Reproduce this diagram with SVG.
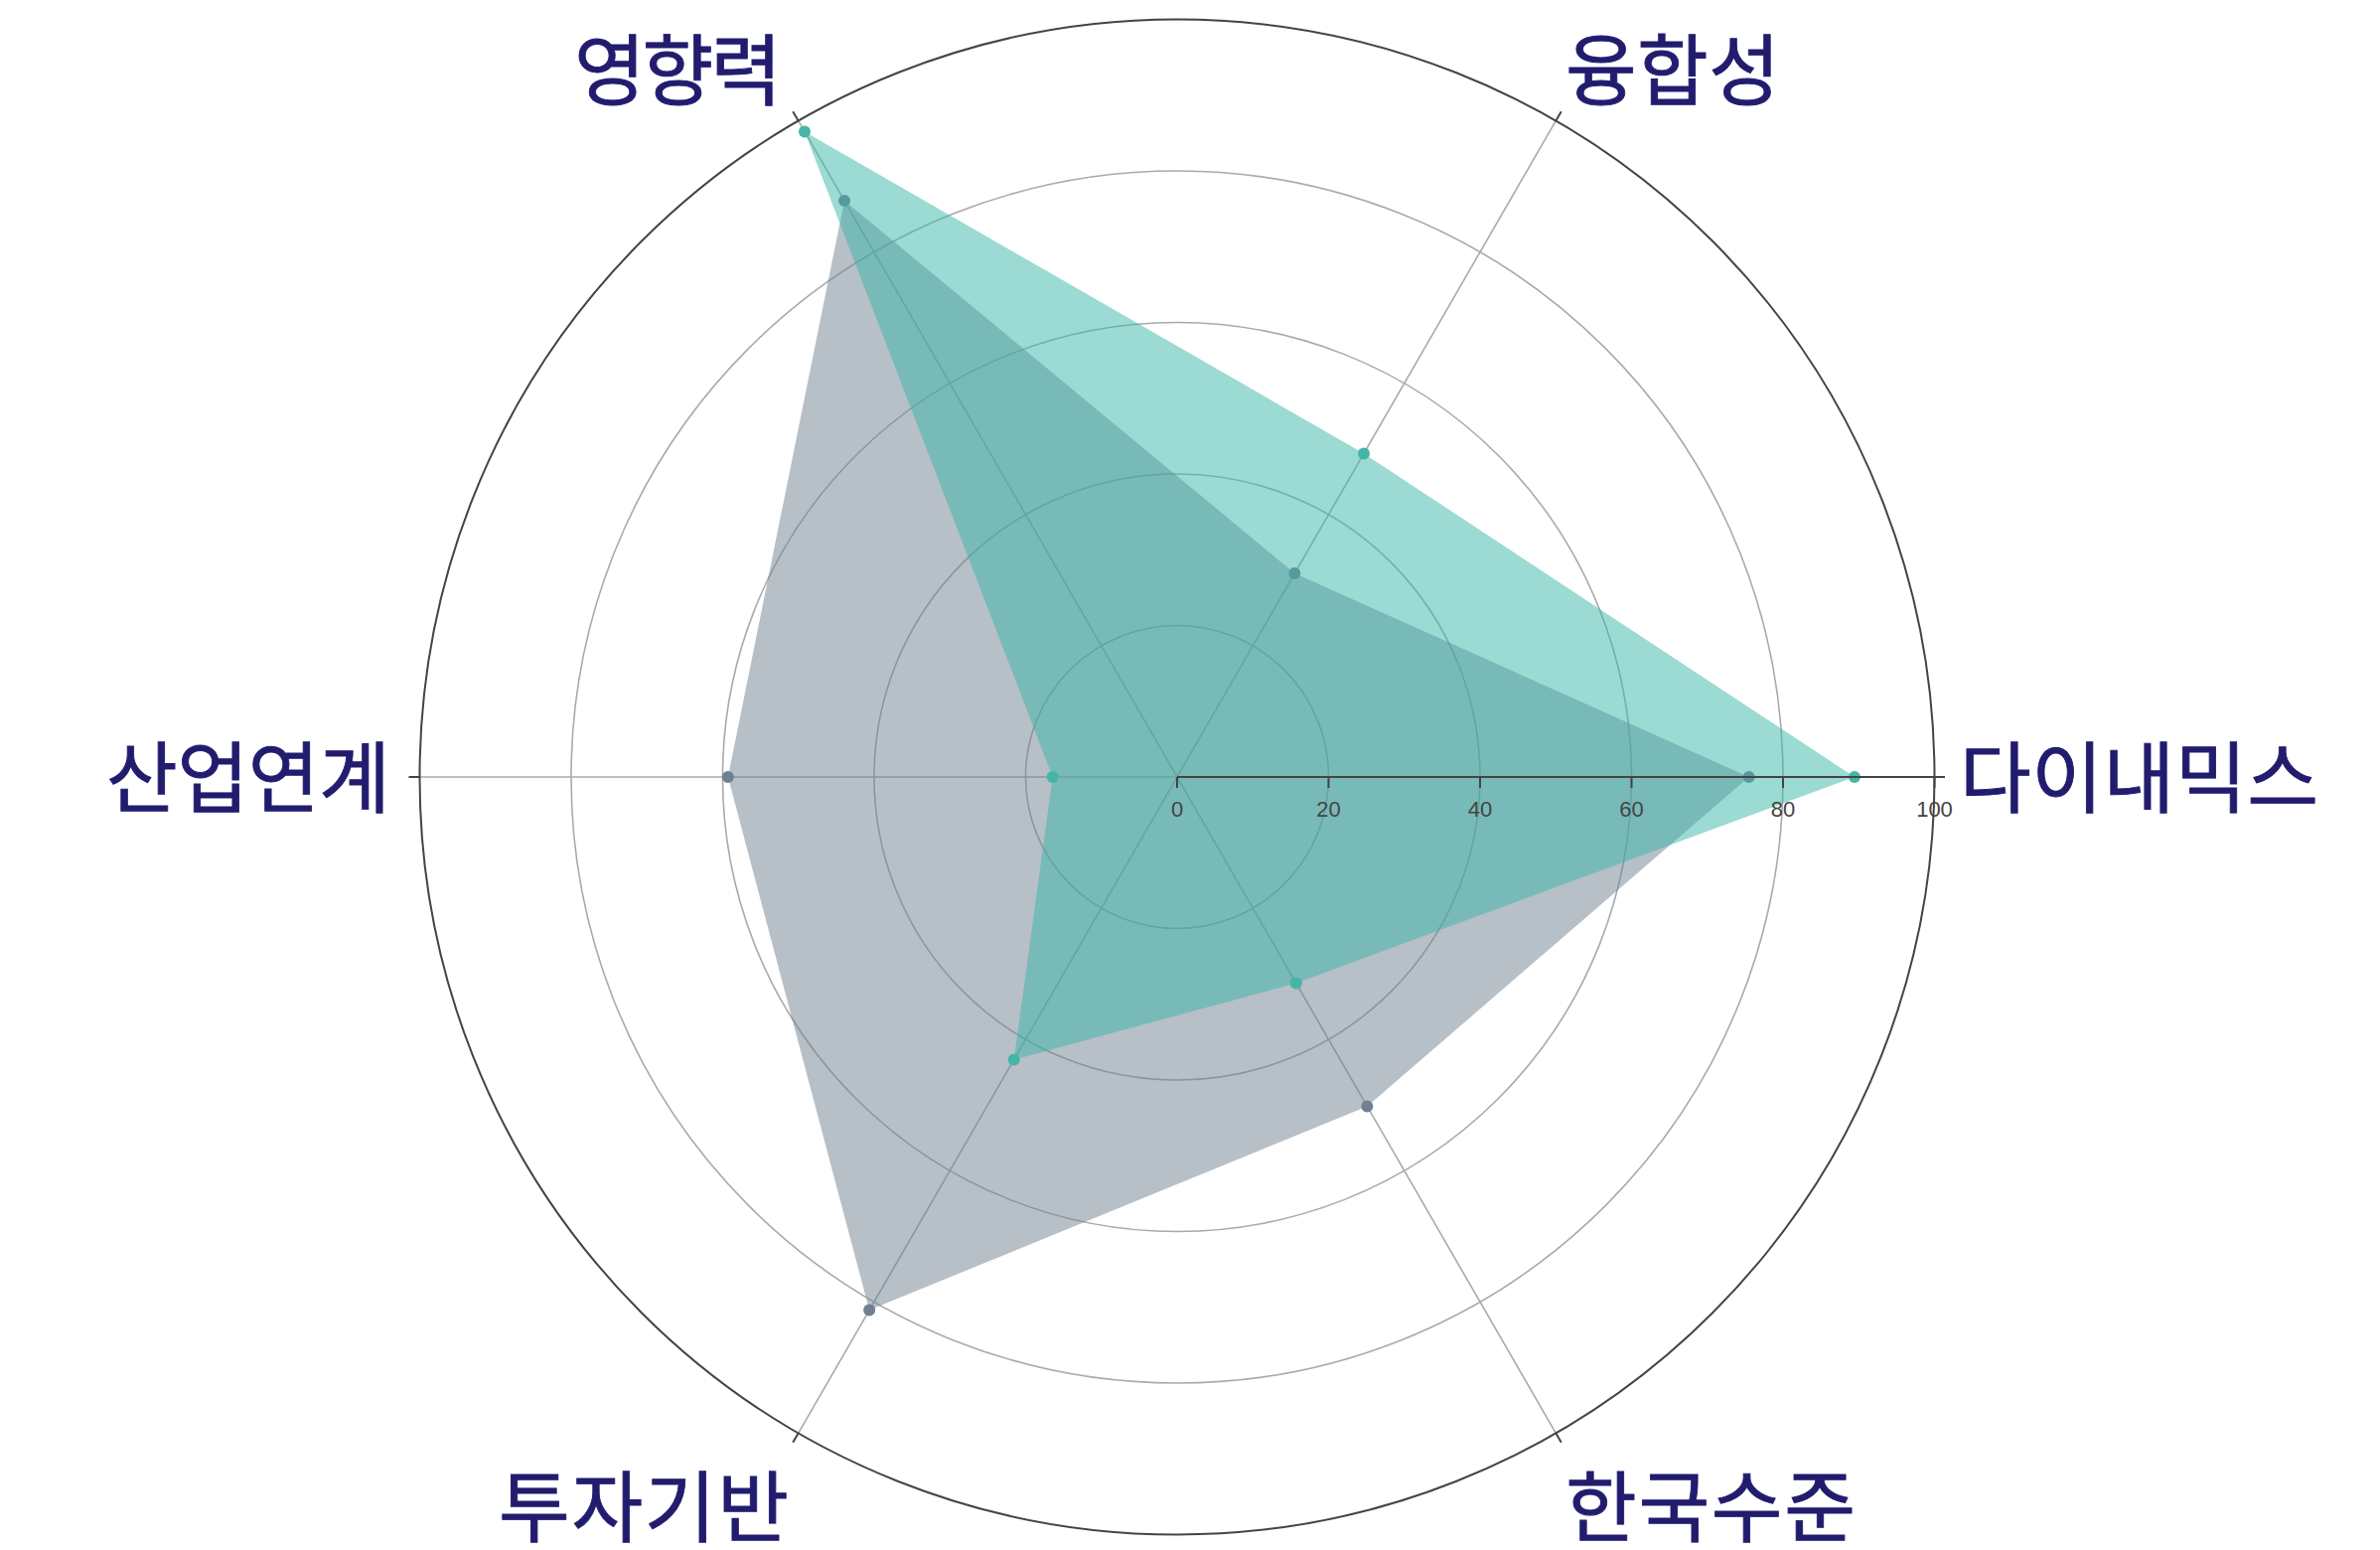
<svg xmlns="http://www.w3.org/2000/svg" width="2396" height="1560" viewBox="0 0 2396 1560">
<style>
.grid{fill:none;stroke:#aaaaaa;stroke-width:1.6}
.outer{fill:none;stroke:#444444;stroke-width:2}
.tick{stroke:#444444;stroke-width:2}
.tl{font-family:"Liberation Sans",Arial,sans-serif;font-size:22px;fill:#444444;text-anchor:middle}
.lab{font-family:"Noto Sans CJK KR","Noto Sans",sans-serif;font-size:78px;font-weight:normal;fill:#221c6e;stroke:#221c6e;stroke-width:0.9}
.tealFill{fill:#39b5a9;fill-opacity:0.5;stroke:none}
.grayFill{fill:#708090;fill-opacity:0.5;stroke:none}
.tealDot{fill:#45b5a8}
.grayDot{fill:#708090}
</style>
<rect width="2396" height="1560" fill="#ffffff"/>
<g id="grid">
<circle class="grid" cx="1185" cy="782" r="152.5"/>
<circle class="grid" cx="1185" cy="782" r="305"/>
<circle class="grid" cx="1185" cy="782" r="457.5"/>
<circle class="grid" cx="1185" cy="782" r="610"/>
<line class="grid" x1="1185" y1="782" x2="1566.25" y2="121.66"/>
<line class="grid" x1="1185" y1="782" x2="803.75" y2="121.66"/>
<line class="grid" x1="1185" y1="782" x2="422.5" y2="782"/>
<line class="grid" x1="1185" y1="782" x2="803.75" y2="1442.34"/>
<line class="grid" x1="1185" y1="782" x2="1566.25" y2="1442.34"/>
<circle class="outer" cx="1185" cy="782" r="762.5"/>
<line class="tick" x1="1566.25" y1="121.66" x2="1571.75" y2="112.13"/>
<line class="tick" x1="803.75" y1="121.66" x2="798.25" y2="112.13"/>
<line class="tick" x1="422.5" y1="782" x2="411.5" y2="782"/>
<line class="tick" x1="803.75" y1="1442.34" x2="798.25" y2="1451.87"/>
<line class="tick" x1="1566.25" y1="1442.34" x2="1571.75" y2="1451.87"/>
</g>
<g id="series-gray">
<polygon class="grayFill" points="1760.7,782 1303.35,577 850.1,201.9 732.9,782 875.2,1318.6 1376.35,1113.4"/>
<circle class="grayDot" cx="1760.7" cy="782" r="6"/>
<circle class="grayDot" cx="1303.35" cy="577" r="6"/>
<circle class="grayDot" cx="850.1" cy="201.9" r="6"/>
<circle class="grayDot" cx="732.9" cy="782" r="6"/>
<circle class="grayDot" cx="875.2" cy="1318.6" r="6"/>
<circle class="grayDot" cx="1376.35" cy="1113.4" r="6"/>
</g>
<g id="series-teal">
<polygon class="tealFill" points="1867,782 1373,456.4 810,132.5 1059.7,782 1020.8,1066.4 1304.8,989.5"/>
<circle class="tealDot" cx="1867" cy="782" r="6"/>
<circle class="tealDot" cx="1373" cy="456.4" r="6"/>
<circle class="tealDot" cx="810" cy="132.5" r="6"/>
<circle class="tealDot" cx="1059.7" cy="782" r="6"/>
<circle class="tealDot" cx="1020.8" cy="1066.4" r="6"/>
<circle class="tealDot" cx="1304.8" cy="989.5" r="6"/>
</g>
<g id="radial-axis">
<line class="tick" x1="1185" y1="782" x2="1958" y2="782"/>
<line class="tick" x1="1185" y1="782" x2="1185" y2="793"/>
<line class="tick" x1="1337.5" y1="782" x2="1337.5" y2="793"/>
<line class="tick" x1="1490" y1="782" x2="1490" y2="793"/>
<line class="tick" x1="1642.5" y1="782" x2="1642.5" y2="793"/>
<line class="tick" x1="1795" y1="782" x2="1795" y2="793"/>
<line class="tick" x1="1947.5" y1="782" x2="1947.5" y2="793"/>
<text class="tl" x="1185" y="822">0</text>
<text class="tl" x="1337.5" y="822">20</text>
<text class="tl" x="1490" y="822">40</text>
<text class="tl" x="1642.5" y="822">60</text>
<text class="tl" x="1795" y="822">80</text>
<text class="tl" x="1947.5" y="822">100</text>
</g>
<g id="label-dynamics"><text class="lab" x="1973" y="812" textLength="361" lengthAdjust="spacing">다이내믹스</text></g>
<g id="label-convergence"><text class="lab" x="1576" y="100" textLength="216" lengthAdjust="spacing">융합성</text></g>
<g id="label-influence"><text class="lab" x="578" y="100" textLength="209" lengthAdjust="spacing">영향력</text></g>
<g id="label-industry"><text class="lab" x="107" y="812" textLength="286" lengthAdjust="spacing">산업연계</text></g>
<g id="label-investment"><text class="lab" x="502" y="1546" textLength="292" lengthAdjust="spacing">투자기반</text></g>
<g id="label-korea"><text class="lab" x="1576" y="1546" textLength="292" lengthAdjust="spacing">한국수준</text></g>
</svg>
